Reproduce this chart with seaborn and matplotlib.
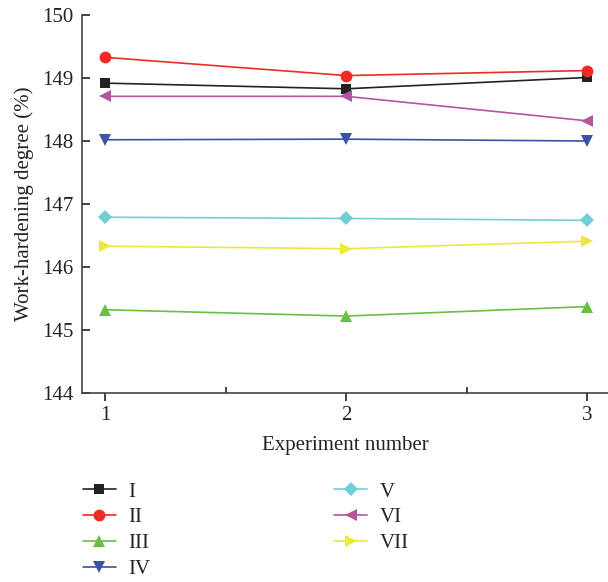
import pandas as pd
import seaborn as sns
import matplotlib.pyplot as plt
from matplotlib.ticker import MultipleLocator

experiments = [1, 2, 3]
series_names = ['I', 'II', 'III', 'IV', 'V', 'VI', 'VII']
I = [148.92, 148.83, 149.01]
II = [149.33, 149.04, 149.12]
III = [145.32, 145.22, 145.37]
IV = [148.02, 148.03, 148.00]
V = [146.79, 146.77, 146.74]
VI = [148.71, 148.71, 148.32]
VII = [146.33, 146.29, 146.41]

colors = ['#222222', '#ee2a24', '#6abf45', '#3a53a4', '#6fcfd8', '#b455a0', '#ece83a']
markers = ['s', 'o', '^', 'v', 'D', '<', '>']
sizes = [8, 10, 10, 10, 8, 10, 10]

rows = []
for name, vals in zip(series_names, [I, II, III, IV, V, VI, VII]):
    for e, v in zip(experiments, vals):
        rows.append({'exp': e, 'val': v, 'series': name})
df = pd.DataFrame(rows)

sns.set_style('ticks')
plt.rcParams['font.family'] = ['Liberation Serif', 'DejaVu Serif']
plt.rcParams['axes.linewidth'] = 1.2

fig = plt.figure(figsize=(6.08, 5.82), dpi=100)
ax = fig.add_axes([0.135, 0.325, 0.865, 0.649])

for name, c, m, ms in zip(series_names, colors, markers, sizes):
    sub = df[df['series'] == name]
    sns.lineplot(data=sub, x='exp', y='val', ax=ax, color=c, marker=m,
                 markersize=ms, markeredgewidth=0, linewidth=1.2, label=name)

ax.set_xlim(0.905, 3.085)
ax.set_ylim(144, 150)
ax.set_xticks(experiments)
ax.xaxis.set_minor_locator(MultipleLocator(0.5))
ax.set_yticks(range(144, 151))
ax.tick_params(axis='y', direction='in', length=6, width=1.2, labelsize=15, colors='#222222', pad=6)
ax.tick_params(axis='x', which='major', direction='out', length=6, width=1.2, labelsize=15, colors='#222222')
ax.tick_params(axis='x', which='minor', direction='in', length=4, width=1.2)
for s in ['left', 'bottom']:
    ax.spines[s].set_color('#444444')
sns.despine(ax=ax)
ax.set_xlabel('Experiment number', fontsize=15, color='#222222', labelpad=8)
ax.set_ylabel('Work-hardening degree (%)', fontsize=15, color='#222222', labelpad=6)

handles, labels = ax.get_legend_handles_labels()
for h in handles:
    h.set_markersize(h.get_markersize() * 0.85)
ax.legend_.remove()
fig.legend(handles, labels, ncol=2, loc='upper left', bbox_to_anchor=(0.105, 0.204),
           frameon=False, fontsize=15, columnspacing=8.8, handlelength=1.6,
           labelspacing=0.3, handletextpad=0.6)

fig.savefig('out.png', dpi=100)
